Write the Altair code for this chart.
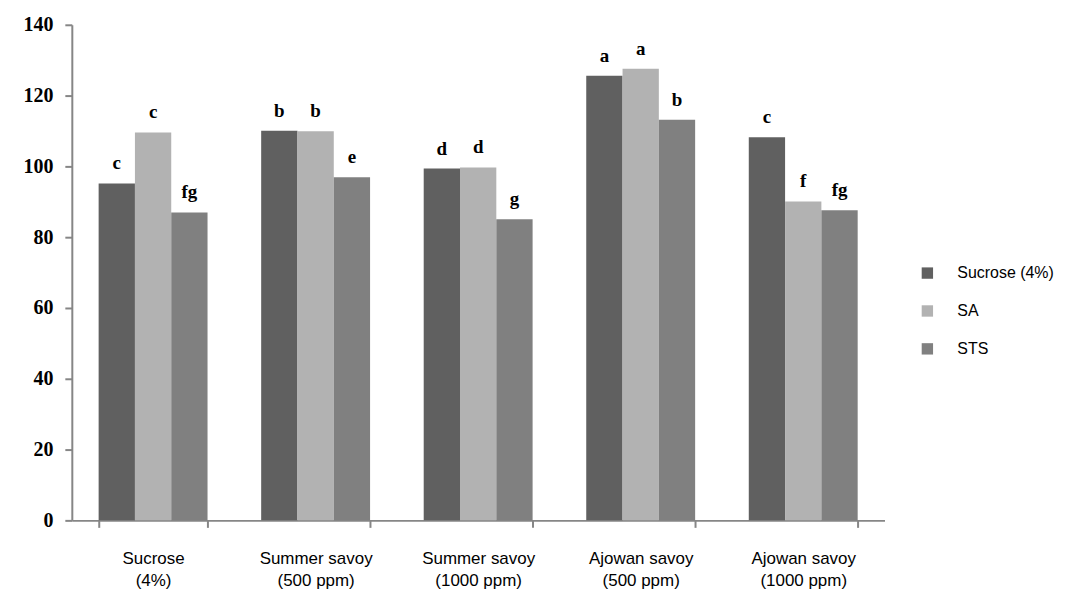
import altair as alt
import pandas as pd

categories = ["Sucrose\n(4%)", "Summer savoy\n(500 ppm)", "Summer savoy\n(1000 ppm)",
              "Ajowan savoy\n(500 ppm)", "Ajowan savoy\n(1000 ppm)"]
series = ["Sucrose (4%)", "SA", "STS"]
sucrose_vals = [95.2, 110.1, 99.4, 125.6, 108.2]
sa_vals = [109.6, 109.9, 99.7, 127.6, 90.1]
sts_vals = [87.0, 96.9, 85.1, 113.2, 87.6]
sucrose_letters = ["c", "b", "d", "a", "c"]
sa_letters = ["c", "b", "d", "a", "f"]
sts_letters = ["fg", "e", "g", "b", "fg"]
colors = ["#606060", "#b2b2b2", "#808080"]

rows = []
for vals, lets, s in [(sucrose_vals, sucrose_letters, series[0]),
                      (sa_vals, sa_letters, series[1]),
                      (sts_vals, sts_letters, series[2])]:
    for c, v, l in zip(categories, vals, lets):
        rows.append({"cat": c, "series": s, "value": v, "letter": l})
df = pd.DataFrame(rows)

x = alt.X("cat:N", sort=categories, title=None,
          scale=alt.Scale(paddingInner=0.33, paddingOuter=0.165),
          axis=alt.Axis(labelAngle=0, labelExpr="split(datum.label, '\\n')",
                        labelFont="Liberation Sans", labelFontSize=17, labelColor="black",
                        labelLineHeight=22, labelPadding=23, tickBand="extent",
                        tickSize=7, tickColor="#868686", tickWidth=2,
                        domainColor="#868686", domainWidth=2, grid=False))
xo = alt.XOffset("series:N", sort=series)

base = alt.Chart(df)
bars = base.mark_bar().encode(
    x=x, xOffset=xo,
    y=alt.Y("value:Q", title=None,
            scale=alt.Scale(domain=[0, 140], nice=False),
            axis=alt.Axis(values=[0, 20, 40, 60, 80, 100, 120, 140], grid=False,
                          labelFont="Liberation Serif", labelFontWeight="bold",
                          labelFontSize=20, labelColor="black", labelPadding=12,
                          tickSize=7, tickColor="#868686", tickWidth=2,
                          domainColor="#868686", domainWidth=2)),
    color=alt.Color("series:N", sort=series, title=None,
                    scale=alt.Scale(domain=series, range=colors),
                    legend=alt.Legend(orient="none", legendX=850, legendY=241,
                                      symbolType="square", symbolSize=130,
                                      symbolStrokeWidth=0,
                                      labelFont="Liberation Sans", labelFontSize=16,
                                      labelColor="black", labelOffset=22,
                                      rowPadding=22)),
)
text = base.mark_text(font="Liberation Serif", fontWeight="bold", fontSize=19,
                      baseline="alphabetic", dy=-14, color="black").encode(
    x=x, xOffset=xo, y="value:Q", text="letter:N")

chart = (bars + text).properties(
    width=815, height=497,
    padding={"left": 15, "top": 6, "right": 5, "bottom": 5},
).configure_view(stroke=None)
chart.save("out.html", embed_options={"renderer": "svg", "actions": False})
